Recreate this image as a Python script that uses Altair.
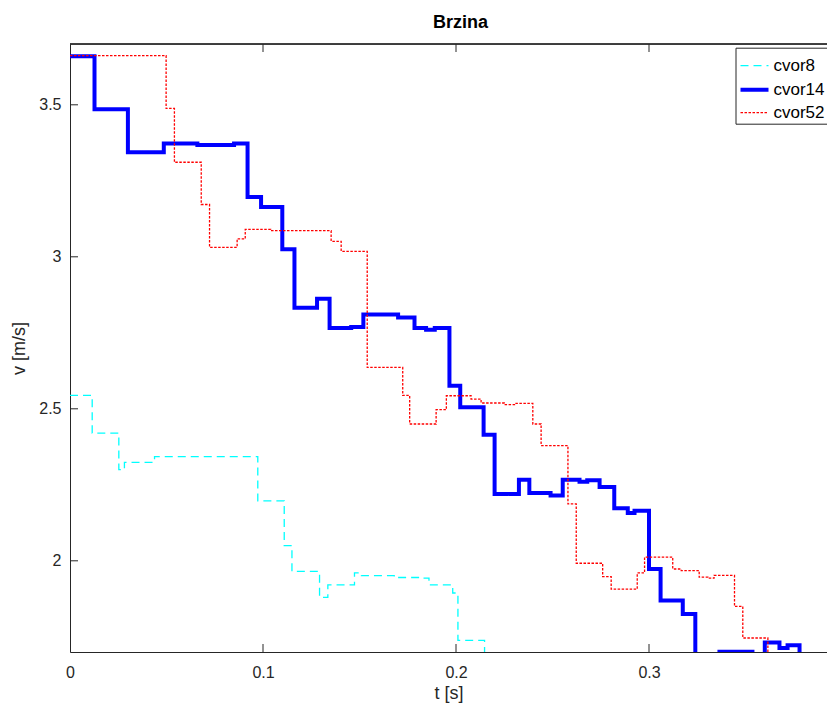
import altair as alt
import pandas as pd

names = ["cvor8", "cvor14", "cvor52"]
colors = ["#00FFFF", "#0000FF", "#FF0000"]
dashes = [[8, 5], [1, 0], [2.5, 1.5]]
widths = [1.3, 4, 1.3]

# step change points (value v[i] holds from t[i] to t[i+1])
t8 = [0, 0.0115, 0.0253, 0.0282, 0.0438, 0.0973, 0.111, 0.115, 0.1293, 0.1336,
      0.1474, 0.151, 0.168, 0.182, 0.186, 0.1983, 0.201, 0.2148, 0.22]
v8 = [2.544, 2.42, 2.30, 2.324, 2.343, 2.197, 2.05, 1.965, 1.88, 1.921,
      1.96, 1.951, 1.945, 1.943, 1.921, 1.894, 1.738, 1.65, 1.65]

t14 = [0, 0.0127, 0.030, 0.0486, 0.066, 0.085, 0.092, 0.099, 0.110, 0.1163,
       0.128, 0.1345, 0.1457, 0.152, 0.170, 0.1785, 0.1845, 0.189, 0.1966, 0.2022,
       0.2143, 0.22, 0.2326, 0.238, 0.249, 0.2553, 0.264, 0.268, 0.2744, 0.282,
       0.289, 0.2925, 0.300, 0.306, 0.3175, 0.324, 0.3365, 0.3536, 0.36, 0.3676,
       0.3718, 0.378, 0.385]
v14 = [3.66, 3.485, 3.344, 3.373, 3.368, 3.373, 3.197, 3.164, 3.025, 2.832,
       2.862, 2.766, 2.769, 2.81, 2.80, 2.766, 2.76, 2.766, 2.576, 2.505,
       2.415, 2.22, 2.267, 2.223, 2.215, 2.267, 2.26, 2.265, 2.243, 2.173,
       2.157, 2.165, 1.973, 1.869, 1.825, 1.65, 1.701, 1.65, 1.731, 1.713,
       1.722, 1.65, 1.65]

t52 = [0, 0.0498, 0.0541, 0.068, 0.0723, 0.0866, 0.0908, 0.104, 0.1353, 0.1405,
       0.154, 0.1724, 0.176, 0.1897, 0.195, 0.2078, 0.213, 0.225, 0.2303, 0.2398,
       0.2441, 0.258, 0.2623, 0.276, 0.2804, 0.2939, 0.2977, 0.3123, 0.3167, 0.326,
       0.3305, 0.3337, 0.3443, 0.3486, 0.3616, 0.37]
v52 = [3.662, 3.488, 3.311, 3.172, 3.031, 3.059, 3.09, 3.086, 3.051, 3.018,
       2.636, 2.544, 2.45, 2.497, 2.543, 2.532, 2.519, 2.514, 2.518, 2.45,
       2.379, 2.187, 1.992, 1.948, 1.907, 1.96, 2.012, 1.973, 1.968, 1.946,
       1.943, 1.952, 1.85, 1.746, 1.65, 1.65]

x_ticks = [0, 0.1, 0.2, 0.3]
y_ticks = [2, 2.5, 3, 3.5]
inner_x_ticks = [0.1, 0.2, 0.3]

rows = []
for name, ts, vs in [("cvor8", t8, v8), ("cvor14", t14, v14), ("cvor52", t52, v52)]:
    for t, v in zip(ts, vs):
        rows.append({"series": name, "t": t, "v": v})
df = pd.DataFrame(rows)

FONT = "Liberation Sans"
AX = "#262626"
W, H = 757, 608
X_MAX = 0.4 * 757 / 772  # the original axis runs to 0.4 but is cut off at the window edge

x_scale = alt.Scale(domain=[0, X_MAX], nice=False, zero=False)
y_scale = alt.Scale(domain=[1.7, 3.7], nice=False, zero=False)

x_enc = alt.X("t:Q", scale=x_scale, title="t [s]",
              axis=alt.Axis(values=x_ticks, format="~g", ticks=False, grid=False,
                            domain=True, domainColor=AX, domainWidth=1, labelFlush=False,
                            labelFont=FONT, labelFontSize=16, labelColor=AX, labelPadding=12,
                            titleFont=FONT, titleFontSize=18, titleFontWeight="normal",
                            titleColor=AX, titlePadding=4))
y_enc = alt.Y("v:Q", scale=y_scale, title="v [m/s]",
              axis=alt.Axis(values=y_ticks, format="~g", ticks=False, grid=False,
                            domain=True, domainColor=AX, domainWidth=1, labelFlush=False,
                            labelFont=FONT, labelFontSize=16, labelColor=AX, labelPadding=9,
                            titleFont=FONT, titleFontSize=18, titleFontWeight="normal",
                            titleColor=AX, titlePadding=10))

legend = alt.Legend(orient="none", legendX=665.5, legendY=3.7, direction="vertical",
                    symbolType="stroke", symbolSize=784, labelFont=FONT, labelFontSize=17,
                    labelColor="#000000", strokeColor=AX, fillColor="#FFFFFF",
                    padding=3, rowPadding=0, labelOffset=3, cornerRadius=0)

lines = alt.Chart(df).mark_line(interpolate="step-after", clip=True).encode(
    x=x_enc,
    y=y_enc,
    color=alt.Color("series:N", scale=alt.Scale(domain=names, range=colors),
                    legend=legend, title=None),
    strokeDash=alt.StrokeDash("series:N", scale=alt.Scale(domain=names, range=dashes),
                              title=None),
    strokeWidth=alt.StrokeWidth("series:N",
                                scale=alt.Scale(type="ordinal", domain=names, range=widths),
                                title=None),
)

xt = pd.DataFrame({"t": inner_x_ticks})
yt = pd.DataFrame({"v": y_ticks})
bottom_ticks = alt.Chart(xt).mark_rule(color=AX, strokeWidth=1).encode(
    x=alt.X("t:Q", scale=x_scale), y=alt.value(H), y2=alt.value(H - 8))
top_ticks = alt.Chart(xt).mark_rule(color=AX, strokeWidth=1).encode(
    x=alt.X("t:Q", scale=x_scale), y=alt.value(0), y2=alt.value(8))
left_ticks = alt.Chart(yt).mark_rule(color=AX, strokeWidth=1).encode(
    y=alt.Y("v:Q", scale=y_scale), x=alt.value(0), x2=alt.value(8))
top_border = alt.Chart(xt).mark_rule(color=AX, strokeWidth=1).encode(
    x=alt.value(0), x2=alt.value(W), y=alt.value(0))

chart = alt.layer(lines, bottom_ticks, top_ticks, left_ticks, top_border).properties(
    width=W, height=H,
    title=alt.TitleParams("Brzina", font=FONT, fontSize=18, fontWeight="bold",
                          color="#000000", anchor="middle", offset=12, dx=12),
    padding={"left": 62, "top": 36, "right": 0, "bottom": 52},
    autosize="none",
).configure_view(stroke=None).configure(background="white")

chart.save("out.html", embed_options={"renderer": "svg", "actions": False})
